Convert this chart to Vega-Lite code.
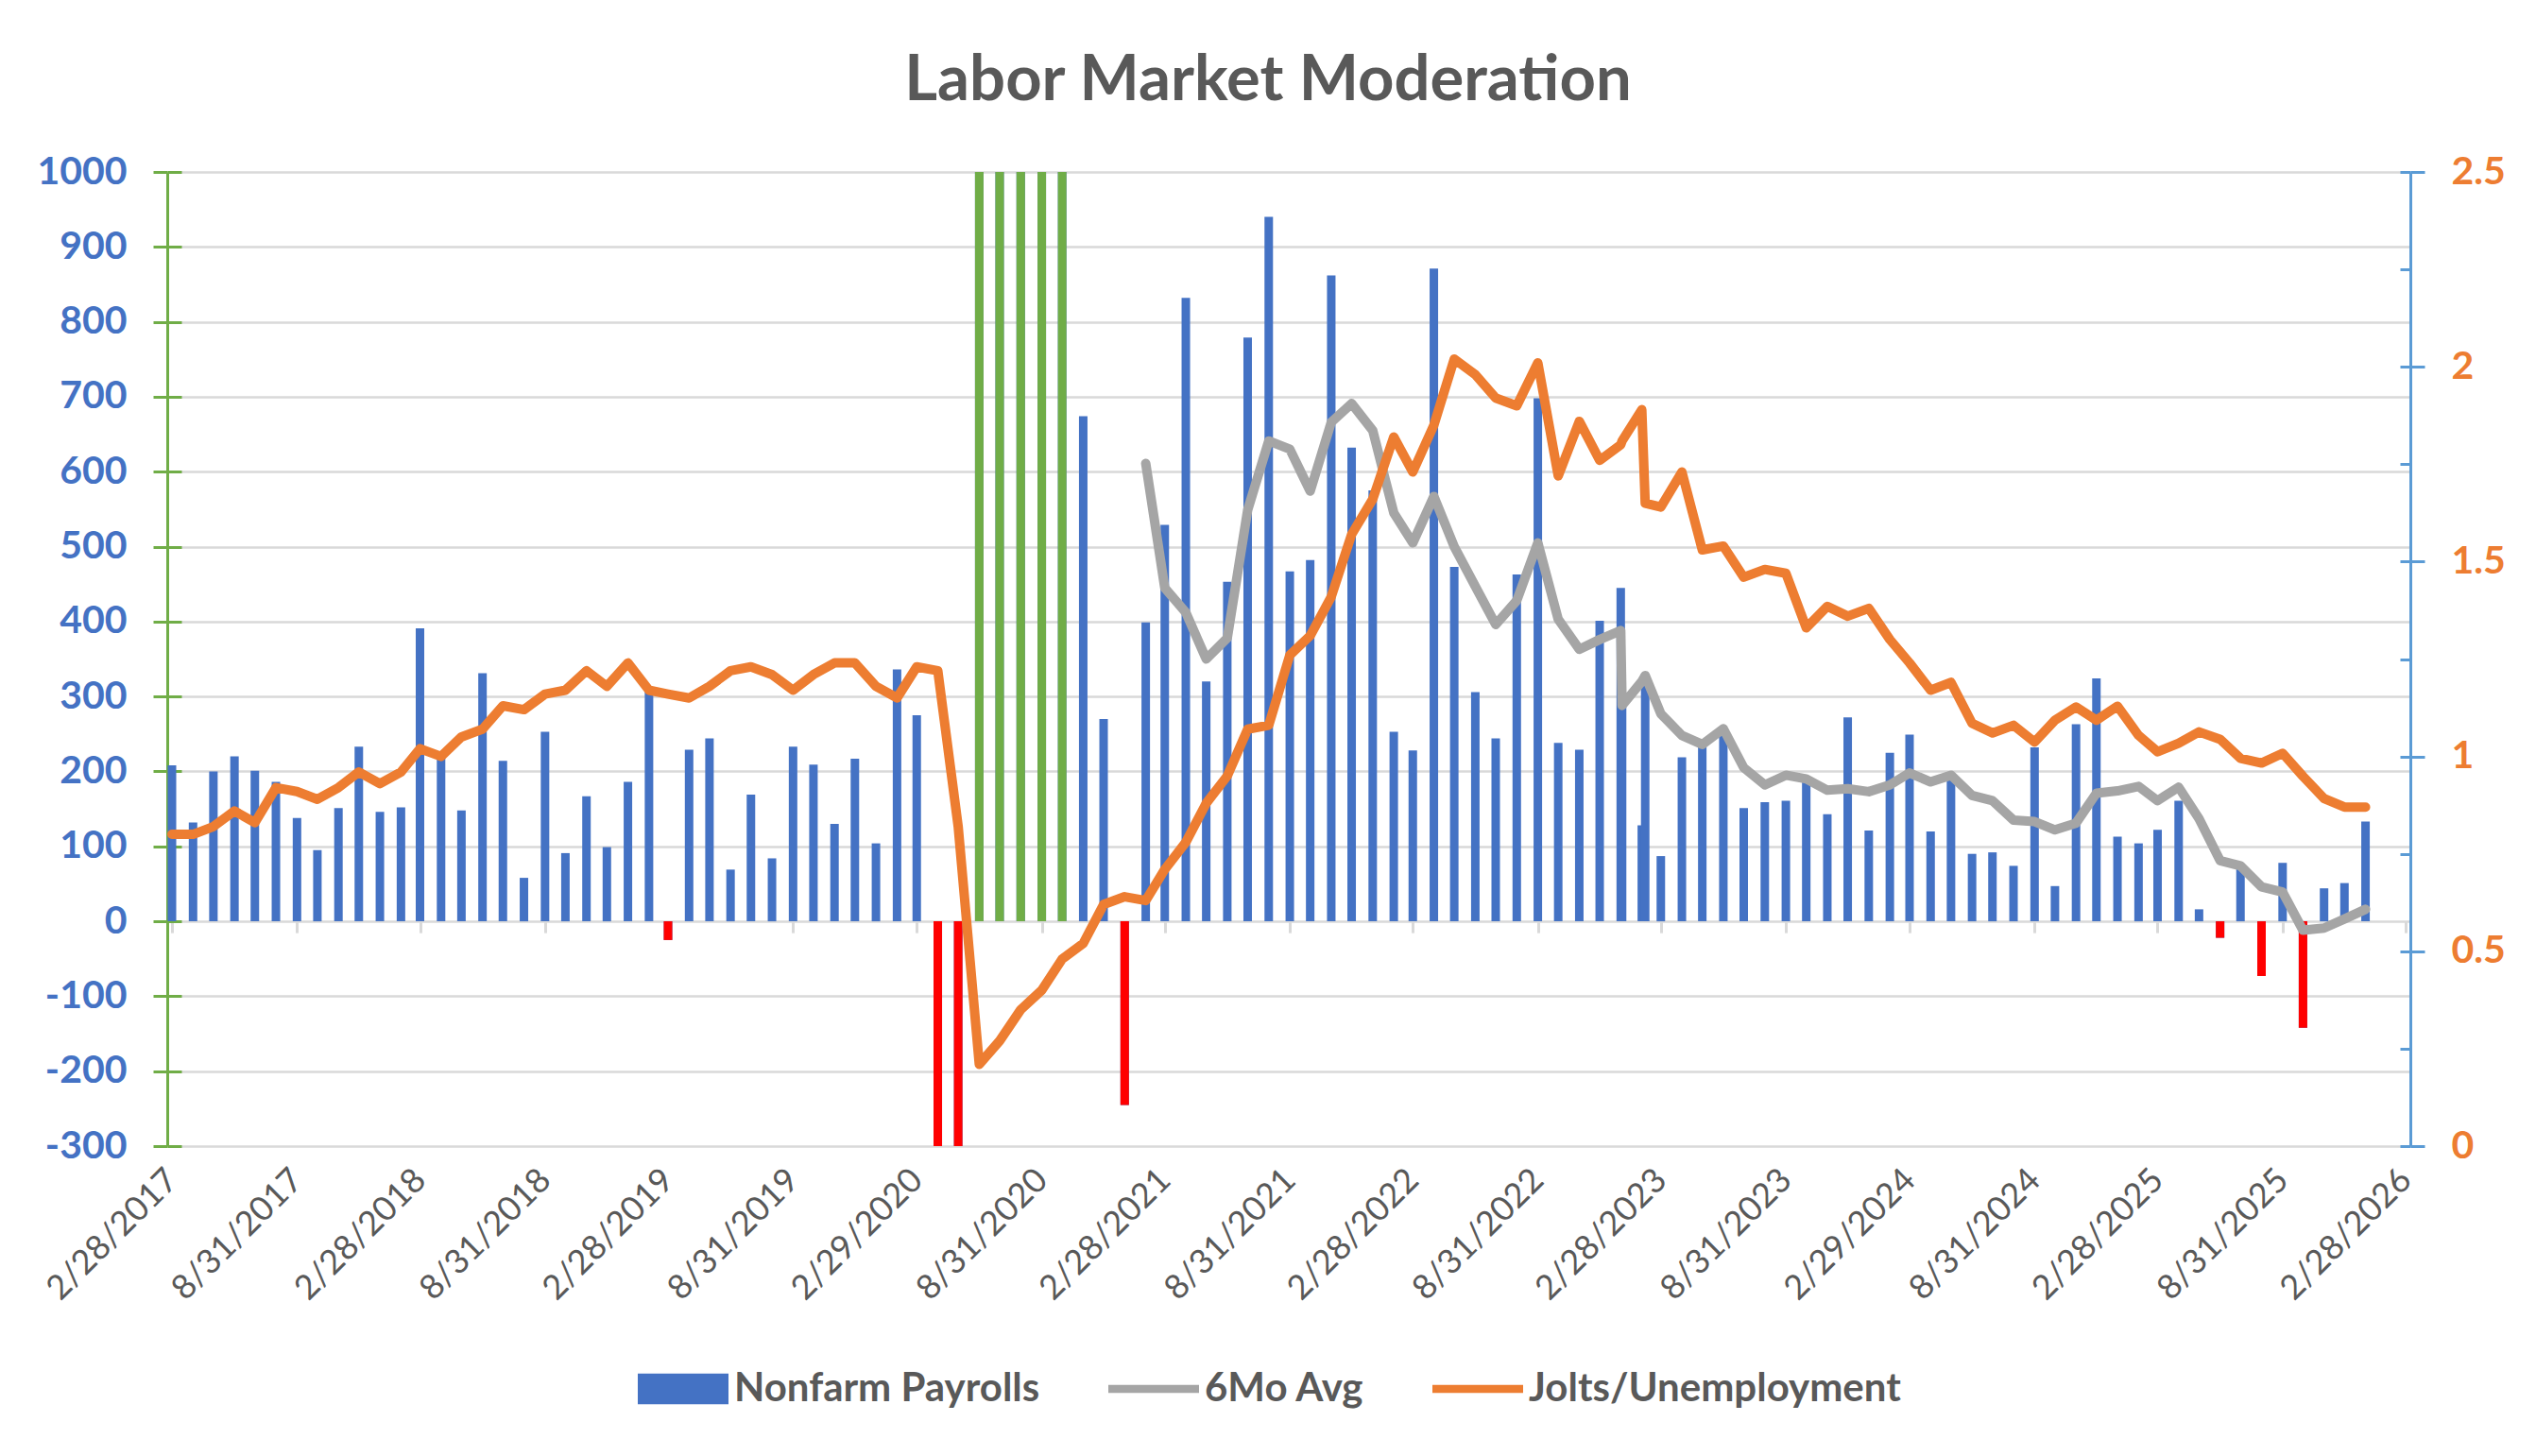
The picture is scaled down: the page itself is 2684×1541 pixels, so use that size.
{
  "$schema": "https://vega.github.io/schema/vega-lite/v6.json",
  "width": 2374,
  "height": 1031,
  "autosize": {"type": "none"},
  "padding": {"left": 177, "top": 182, "right": 133, "bottom": 328},
  "background": "white",
  "config": {"font": "Lato", "view": {"stroke": null}},
  "title": {"text": "Labor Market Moderation", "fontSize": 67, "fontWeight": "bold", "color": "#595959", "font": "Lato", "anchor": "middle", "dx": -22, "offset": 41},
  "data": {"values": [
    {"date": "2017-02-28", "payrolls": 208, "avg6": null, "ratio": 0.80},
    {"date": "2017-03-31", "payrolls": 132, "avg6": null, "ratio": 0.80},
    {"date": "2017-04-30", "payrolls": 200, "avg6": null, "ratio": 0.82},
    {"date": "2017-05-31", "payrolls": 220, "avg6": null, "ratio": 0.86},
    {"date": "2017-06-30", "payrolls": 201, "avg6": null, "ratio": 0.83},
    {"date": "2017-07-31", "payrolls": 186, "avg6": null, "ratio": 0.92},
    {"date": "2017-08-31", "payrolls": 138, "avg6": null, "ratio": 0.91},
    {"date": "2017-09-30", "payrolls": 95, "avg6": null, "ratio": 0.89},
    {"date": "2017-10-31", "payrolls": 151, "avg6": null, "ratio": 0.92},
    {"date": "2017-11-30", "payrolls": 233, "avg6": null, "ratio": 0.96},
    {"date": "2017-12-31", "payrolls": 146, "avg6": null, "ratio": 0.93},
    {"date": "2018-01-31", "payrolls": 152, "avg6": null, "ratio": 0.96},
    {"date": "2018-02-28", "payrolls": 391, "avg6": null, "ratio": 1.02},
    {"date": "2018-03-31", "payrolls": 225, "avg6": null, "ratio": 1.00},
    {"date": "2018-04-30", "payrolls": 148, "avg6": null, "ratio": 1.05},
    {"date": "2018-05-31", "payrolls": 331, "avg6": null, "ratio": 1.07},
    {"date": "2018-06-30", "payrolls": 214, "avg6": null, "ratio": 1.13},
    {"date": "2018-07-31", "payrolls": 58, "avg6": null, "ratio": 1.12},
    {"date": "2018-08-31", "payrolls": 253, "avg6": null, "ratio": 1.16},
    {"date": "2018-09-30", "payrolls": 91, "avg6": null, "ratio": 1.17},
    {"date": "2018-10-31", "payrolls": 167, "avg6": null, "ratio": 1.22},
    {"date": "2018-11-30", "payrolls": 99, "avg6": null, "ratio": 1.18},
    {"date": "2018-12-31", "payrolls": 186, "avg6": null, "ratio": 1.24},
    {"date": "2019-01-31", "payrolls": 312, "avg6": null, "ratio": 1.17},
    {"date": "2019-02-28", "payrolls": -25, "avg6": null, "ratio": 1.16},
    {"date": "2019-03-31", "payrolls": 229, "avg6": null, "ratio": 1.15},
    {"date": "2019-04-30", "payrolls": 244, "avg6": null, "ratio": 1.18},
    {"date": "2019-05-31", "payrolls": 69, "avg6": null, "ratio": 1.22},
    {"date": "2019-06-30", "payrolls": 169, "avg6": null, "ratio": 1.23},
    {"date": "2019-07-31", "payrolls": 84, "avg6": null, "ratio": 1.21},
    {"date": "2019-08-31", "payrolls": 233, "avg6": null, "ratio": 1.17},
    {"date": "2019-09-30", "payrolls": 209, "avg6": null, "ratio": 1.21},
    {"date": "2019-10-31", "payrolls": 130, "avg6": null, "ratio": 1.24},
    {"date": "2019-11-30", "payrolls": 217, "avg6": null, "ratio": 1.24},
    {"date": "2019-12-31", "payrolls": 104, "avg6": null, "ratio": 1.18},
    {"date": "2020-01-31", "payrolls": 336, "avg6": null, "ratio": 1.15},
    {"date": "2020-02-29", "payrolls": 275, "avg6": null, "ratio": 1.23},
    {"date": "2020-03-31", "payrolls": -1400, "avg6": null, "ratio": 1.22},
    {"date": "2020-04-30", "payrolls": -20500, "avg6": null, "ratio": 0.82},
    {"date": "2020-05-31", "payrolls": 2725, "avg6": null, "ratio": 0.21},
    {"date": "2020-06-30", "payrolls": 4781, "avg6": null, "ratio": 0.27},
    {"date": "2020-07-31", "payrolls": 1726, "avg6": null, "ratio": 0.35},
    {"date": "2020-08-31", "payrolls": 1583, "avg6": null, "ratio": 0.40},
    {"date": "2020-09-30", "payrolls": 1100, "avg6": null, "ratio": 0.48},
    {"date": "2020-10-31", "payrolls": 674, "avg6": null, "ratio": 0.52},
    {"date": "2020-11-30", "payrolls": 270, "avg6": null, "ratio": 0.62},
    {"date": "2020-12-31", "payrolls": -245, "avg6": null, "ratio": 0.64},
    {"date": "2021-01-31", "payrolls": 399, "avg6": 611, "ratio": 0.63},
    {"date": "2021-02-28", "payrolls": 529, "avg6": 445, "ratio": 0.71},
    {"date": "2021-03-31", "payrolls": 832, "avg6": 412, "ratio": 0.78},
    {"date": "2021-04-30", "payrolls": 320, "avg6": 350, "ratio": 0.88},
    {"date": "2021-05-31", "payrolls": 453, "avg6": 378, "ratio": 0.95},
    {"date": "2021-06-30", "payrolls": 779, "avg6": 549, "ratio": 1.07},
    {"date": "2021-07-31", "payrolls": 940, "avg6": 641, "ratio": 1.08},
    {"date": "2021-08-31", "payrolls": 467, "avg6": 630, "ratio": 1.26},
    {"date": "2021-09-30", "payrolls": 482, "avg6": 574, "ratio": 1.31},
    {"date": "2021-10-31", "payrolls": 862, "avg6": 666, "ratio": 1.41},
    {"date": "2021-11-30", "payrolls": 632, "avg6": 691, "ratio": 1.57},
    {"date": "2021-12-31", "payrolls": 575, "avg6": 655, "ratio": 1.66},
    {"date": "2022-01-31", "payrolls": 253, "avg6": 545, "ratio": 1.82},
    {"date": "2022-02-28", "payrolls": 228, "avg6": 505, "ratio": 1.73},
    {"date": "2022-03-31", "payrolls": 871, "avg6": 567, "ratio": 1.85},
    {"date": "2022-04-30", "payrolls": 473, "avg6": 500, "ratio": 2.02},
    {"date": "2022-05-31", "payrolls": 306, "avg6": 447, "ratio": 1.98},
    {"date": "2022-06-30", "payrolls": 244, "avg6": 396, "ratio": 1.92},
    {"date": "2022-07-31", "payrolls": 463, "avg6": 428, "ratio": 1.90},
    {"date": "2022-08-31", "payrolls": 698, "avg6": 505, "ratio": 2.01},
    {"date": "2022-09-30", "payrolls": 238, "avg6": 403, "ratio": 1.72},
    {"date": "2022-10-31", "payrolls": 229, "avg6": 363, "ratio": 1.86},
    {"date": "2022-11-30", "payrolls": 401, "avg6": 376, "ratio": 1.76},
    {"date": "2022-12-31", "payrolls": 445, "avg6": 388, "ratio": 1.80},
    {"date": "2023-01-02", "payrolls": 300, "avg6": 288, "ratio": 1.81},
    {"date": "2023-01-31", "payrolls": 128, "avg6": 320, "ratio": 1.89},
    {"date": "2023-02-05", "payrolls": 330, "avg6": 328, "ratio": 1.65},
    {"date": "2023-02-28", "payrolls": 87, "avg6": 277, "ratio": 1.64},
    {"date": "2023-03-31", "payrolls": 219, "avg6": 248, "ratio": 1.73},
    {"date": "2023-04-30", "payrolls": 239, "avg6": 236, "ratio": 1.53},
    {"date": "2023-05-31", "payrolls": 255, "avg6": 257, "ratio": 1.54},
    {"date": "2023-06-30", "payrolls": 151, "avg6": 205, "ratio": 1.46},
    {"date": "2023-07-31", "payrolls": 159, "avg6": 182, "ratio": 1.48},
    {"date": "2023-08-31", "payrolls": 161, "avg6": 195, "ratio": 1.47},
    {"date": "2023-09-30", "payrolls": 186, "avg6": 190, "ratio": 1.33},
    {"date": "2023-10-31", "payrolls": 143, "avg6": 175, "ratio": 1.385},
    {"date": "2023-11-30", "payrolls": 272, "avg6": 177, "ratio": 1.36},
    {"date": "2023-12-31", "payrolls": 121, "avg6": 173, "ratio": 1.38},
    {"date": "2024-01-31", "payrolls": 225, "avg6": 182, "ratio": 1.30},
    {"date": "2024-02-29", "payrolls": 249, "avg6": 198, "ratio": 1.24},
    {"date": "2024-03-31", "payrolls": 120, "avg6": 186, "ratio": 1.17},
    {"date": "2024-04-30", "payrolls": 190, "avg6": 195, "ratio": 1.19},
    {"date": "2024-05-31", "payrolls": 90, "avg6": 168, "ratio": 1.085},
    {"date": "2024-06-30", "payrolls": 92, "avg6": 161, "ratio": 1.06},
    {"date": "2024-07-31", "payrolls": 74, "avg6": 135, "ratio": 1.08},
    {"date": "2024-08-31", "payrolls": 232, "avg6": 133, "ratio": 1.037},
    {"date": "2024-09-30", "payrolls": 47, "avg6": 122, "ratio": 1.093},
    {"date": "2024-10-31", "payrolls": 263, "avg6": 131, "ratio": 1.127},
    {"date": "2024-11-30", "payrolls": 324, "avg6": 171, "ratio": 1.093},
    {"date": "2024-12-31", "payrolls": 113, "avg6": 174, "ratio": 1.129},
    {"date": "2025-01-31", "payrolls": 104, "avg6": 180, "ratio": 1.054},
    {"date": "2025-02-28", "payrolls": 122, "avg6": 161, "ratio": 1.012},
    {"date": "2025-03-31", "payrolls": 161, "avg6": 179, "ratio": 1.034},
    {"date": "2025-04-30", "payrolls": 16, "avg6": 137, "ratio": 1.063},
    {"date": "2025-05-31", "payrolls": -22, "avg6": 81, "ratio": 1.044},
    {"date": "2025-06-30", "payrolls": 72, "avg6": 74, "ratio": 0.995},
    {"date": "2025-07-31", "payrolls": -73, "avg6": 46, "ratio": 0.983},
    {"date": "2025-08-31", "payrolls": 78, "avg6": 39, "ratio": 1.008},
    {"date": "2025-09-30", "payrolls": -142, "avg6": -12, "ratio": 0.949},
    {"date": "2025-10-31", "payrolls": 44, "avg6": -9, "ratio": 0.892},
    {"date": "2025-11-30", "payrolls": 51, "avg6": 3, "ratio": 0.870},
    {"date": "2025-12-31", "payrolls": 133, "avg6": 16, "ratio": 0.870}
  ]},
  "layer": [
    {
      "mark": {"type": "bar", "size": 9},
      "encoding": {
        "x": {
          "field": "date", "type": "temporal",
          "scale": {"domain": [{"year": 2017, "month": 2, "date": 28, "utc": true}, {"year": 2026, "month": 2, "date": 28, "utc": true}], "nice": false},
          "axis": {
            "orient": "bottom", "title": null, "domain": false, "ticks": false, "grid": false,
            "values": [
              {"year": 2017, "month": 2, "date": 28, "utc": true}, {"year": 2017, "month": 8, "date": 31, "utc": true},
              {"year": 2018, "month": 2, "date": 28, "utc": true}, {"year": 2018, "month": 8, "date": 31, "utc": true},
              {"year": 2019, "month": 2, "date": 28, "utc": true}, {"year": 2019, "month": 8, "date": 31, "utc": true},
              {"year": 2020, "month": 2, "date": 29, "utc": true}, {"year": 2020, "month": 8, "date": 31, "utc": true},
              {"year": 2021, "month": 2, "date": 28, "utc": true}, {"year": 2021, "month": 8, "date": 31, "utc": true},
              {"year": 2022, "month": 2, "date": 28, "utc": true}, {"year": 2022, "month": 8, "date": 31, "utc": true},
              {"year": 2023, "month": 2, "date": 28, "utc": true}, {"year": 2023, "month": 8, "date": 31, "utc": true},
              {"year": 2024, "month": 2, "date": 29, "utc": true}, {"year": 2024, "month": 8, "date": 31, "utc": true},
              {"year": 2025, "month": 2, "date": 28, "utc": true}, {"year": 2025, "month": 8, "date": 31, "utc": true},
              {"year": 2026, "month": 2, "date": 28, "utc": true}
            ],
            "labelExpr": "utcFormat(datum.value, '%-m/%-d/%Y')",
            "labelAngle": -45, "labelAlign": "right", "labelBaseline": "middle",
            "labelFont": "Lato", "labelFontSize": 36, "labelColor": "#595959",
            "labelPadding": 30, "labelOverlap": false, "labelBound": false, "labelFlush": false
          }
        },
        "y": {
          "field": "payrolls", "type": "quantitative",
          "scale": {"domain": [-300, 1000], "nice": false, "clamp": true},
          "axis": {
            "title": null, "values": [-300, -200, -100, 0, 100, 200, 300, 400, 500, 600, 700, 800, 900, 1000],
            "labelExpr": "'' + datum.value", "labelFont": "Lato", "labelFontSize": 41, "labelFontWeight": "bold", "labelColor": "#4472C4",
            "labelPadding": 28, "domainColor": "#70AD47", "domainWidth": 3, "tickColor": "#70AD47", "tickWidth": 3, "tickSize": 15,
            "grid": true, "gridColor": "#D9D9D9", "gridWidth": 2.5
          }
        },
        "color": {
          "datum": "Nonfarm Payrolls", "type": "nominal",
          "scale": {"domain": ["Nonfarm Payrolls", "6Mo Avg", "Jolts/Unemployment"], "range": ["#4472C4", "#A5A5A5", "#ED7D31"]},
          "legend": {
            "orient": "none", "legendX": 498, "legendY": 1240, "direction": "horizontal", "title": null, "padding": 0,
            "labelFont": "Lato", "labelFontSize": 42, "labelFontWeight": "bold", "labelColor": "#595959",
            "symbolSize": 9216, "labelOffset": 6, "columnPadding": 72, "labelLimit": 600,
            "encode": {
              "symbols": {
                "update": {
                  "shape": {"signal": "datum.value === 'Nonfarm Payrolls' ? 'M-1,-0.34H1V0.34H-1Z' : 'M-1,-0.09H1V0.09H-1Z'"},
                  "fill": {"signal": "datum.value === 'Nonfarm Payrolls' ? '#4472C4' : (datum.value === '6Mo Avg' ? '#A5A5A5' : '#ED7D31')"},
                  "stroke": {"value": "transparent"},
                  "strokeWidth": {"value": 0},
                  "opacity": {"value": 1}
                }
              }
            }
          }
        }
      }
    },
    {
      "transform": [{"filter": "datum.payrolls < 0"}],
      "mark": {"type": "bar", "size": 9, "color": "#FF0000"},
      "encoding": {
        "x": {"field": "date", "type": "temporal", "axis": null},
        "y": {
          "field": "payrolls", "type": "quantitative", "scale": {"domain": [-300, 1000], "nice": false, "clamp": true},
          "axis": {"orient": "right", "title": null, "labels": false, "domain": false, "grid": false, "tickSize": -11, "tickWidth": 3, "tickColor": "#5B9BD5",
                   "values": [-300, -170, -40, 90, 220, 350, 480, 610, 740, 870, 1000]}
        }
      }
    },
    {
      "transform": [{"filter": "datum.payrolls > 1000"}],
      "mark": {"type": "bar", "size": 9, "color": "#70AD47"},
      "encoding": {
        "x": {"field": "date", "type": "temporal", "axis": null},
        "y": {"field": "payrolls", "type": "quantitative", "scale": {"domain": [-300, 1000], "nice": false, "clamp": true}, "axis": null}
      }
    },
    {
      "mark": {"type": "line", "strokeWidth": 10, "strokeCap": "round", "strokeJoin": "round"},
      "encoding": {
        "x": {
          "field": "date", "type": "temporal",
          "axis": {
            "orient": "bottom", "title": null, "labels": false, "domain": false, "grid": false, "offset": -237.9,
            "tickSize": 12, "tickWidth": 3, "tickColor": "#D9D9D9",
            "values": [
              {"year": 2017, "month": 2, "date": 28, "utc": true}, {"year": 2017, "month": 8, "date": 31, "utc": true},
              {"year": 2018, "month": 2, "date": 28, "utc": true}, {"year": 2018, "month": 8, "date": 31, "utc": true},
              {"year": 2019, "month": 2, "date": 28, "utc": true}, {"year": 2019, "month": 8, "date": 31, "utc": true},
              {"year": 2020, "month": 2, "date": 29, "utc": true}, {"year": 2020, "month": 8, "date": 31, "utc": true},
              {"year": 2021, "month": 2, "date": 28, "utc": true}, {"year": 2021, "month": 8, "date": 31, "utc": true},
              {"year": 2022, "month": 2, "date": 28, "utc": true}, {"year": 2022, "month": 8, "date": 31, "utc": true},
              {"year": 2023, "month": 2, "date": 28, "utc": true}, {"year": 2023, "month": 8, "date": 31, "utc": true},
              {"year": 2024, "month": 2, "date": 29, "utc": true}, {"year": 2024, "month": 8, "date": 31, "utc": true},
              {"year": 2025, "month": 2, "date": 28, "utc": true}, {"year": 2025, "month": 8, "date": 31, "utc": true},
              {"year": 2026, "month": 2, "date": 28, "utc": true}
            ]
          }
        },
        "y": {
          "field": "avg6", "type": "quantitative", "scale": {"domain": [-300, 1000], "nice": false},
          "axis": {"orient": "left", "title": null, "labels": false, "domain": false, "grid": false, "tickSize": -15, "tickWidth": 3, "tickColor": "#70AD47",
                   "values": [-300, -200, -100, 0, 100, 200, 300, 400, 500, 600, 700, 800, 900, 1000]}
        },
        "color": {"datum": "6Mo Avg", "type": "nominal"}
      }
    },
    {
      "mark": {"type": "line", "strokeWidth": 10, "strokeCap": "round", "strokeJoin": "round"},
      "encoding": {
        "x": {"field": "date", "type": "temporal", "axis": null},
        "y": {
          "field": "ratio", "type": "quantitative",
          "scale": {"domain": [0, 2.5], "nice": false},
          "axis": {
            "orient": "right", "title": null, "values": [0, 0.5, 1, 1.5, 2, 2.5], "format": "~g",
            "labelFont": "Lato", "labelFontSize": 41, "labelFontWeight": "bold", "labelColor": "#ED7D31",
            "labelPadding": 28, "domainColor": "#5B9BD5", "domainWidth": 3, "tickColor": "#5B9BD5", "tickWidth": 3, "tickSize": 15,
            "grid": false
          }
        },
        "color": {"datum": "Jolts/Unemployment", "type": "nominal"}
      }
    }
  ],
  "resolve": {"scale": {"y": "independent"}, "axis": {"x": "independent"}}
}
